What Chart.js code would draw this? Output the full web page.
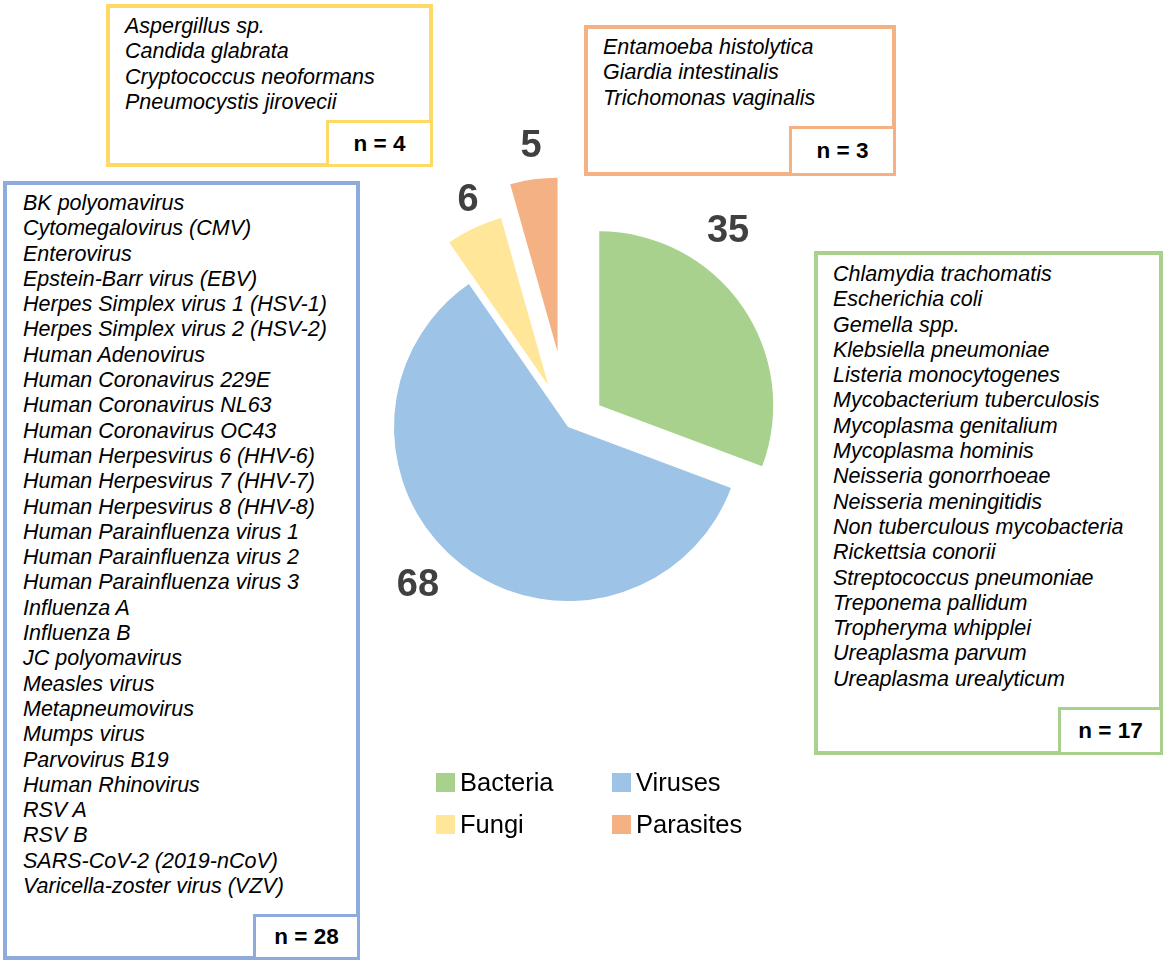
<!DOCTYPE html>
<html>
<head>
<meta charset="utf-8">
<script src="https://cdn.jsdelivr.net/npm/chart.js@4.4.0/dist/chart.umd.min.js"></script>
<style>
  body { margin: 0; background: #fff; font-family: "Liberation Sans", Arial, sans-serif; }
  #wrap { position: relative; width: 1169px; height: 965px; overflow: hidden; }
  #chartBox { position: absolute; left: 0; top: 0; width: 1169px; height: 965px; }
  .box { position: absolute; box-sizing: border-box; border: 4px solid; background: #fff; }
  .box ul { position: absolute; list-style: none; margin: 0; padding: 0; font-style: italic;
            font-size: 21.5px; line-height: 25.3px; white-space: nowrap; color: #000; }
  .nbox { position: absolute; right: -4px; bottom: -4px; box-sizing: border-box; border: 3.5px solid;
          background: #fff; display: flex; align-items: center; justify-content: center;
          font-weight: bold; font-size: 22.5px; color: #000; }
  #legend { position: absolute; left: 436px; top: 761px; display: grid;
            grid-template-columns: 176px auto; grid-auto-rows: 42px; }
  #legend div { display: flex; align-items: center; font-size: 25.5px; color: #000; }
  #legend span { display: inline-block; width: 19px; height: 19px; margin-right: 5px; }
</style>
</head>
<body>
<div id="wrap">
  <div id="chartBox"><canvas id="pieChart"></canvas></div>
  <div id="boxes"></div>
  <div id="legend"></div>
</div>
<script>
// group totals
const groups = ['Bacteria', 'Viruses', 'Fungi', 'Parasites'];
const counts = [35, 68, 6, 5];
const sliceColors = ['#A9D18E', '#9DC3E6', '#FFE699', '#F4B183'];
const boxColors = ['#A9D18E', '#8FAADC', '#FFD966', '#F4B183'];

// pathogens per group
const bacteriaList = ['Chlamydia trachomatis', 'Escherichia coli', 'Gemella spp.', 'Klebsiella pneumoniae',
  'Listeria monocytogenes', 'Mycobacterium tuberculosis', 'Mycoplasma genitalium', 'Mycoplasma hominis',
  'Neisseria gonorrhoeae', 'Neisseria meningitidis', 'Non tuberculous mycobacteria', 'Rickettsia conorii',
  'Streptococcus pneumoniae', 'Treponema pallidum', 'Tropheryma whipplei', 'Ureaplasma parvum',
  'Ureaplasma urealyticum'];
const virusList = ['BK polyomavirus', 'Cytomegalovirus (CMV)', 'Enterovirus', 'Epstein-Barr virus (EBV)',
  'Herpes Simplex virus 1 (HSV-1)', 'Herpes Simplex virus 2 (HSV-2)', 'Human Adenovirus',
  'Human Coronavirus 229E', 'Human Coronavirus NL63', 'Human Coronavirus OC43',
  'Human Herpesvirus 6 (HHV-6)', 'Human Herpesvirus 7 (HHV-7)', 'Human Herpesvirus 8 (HHV-8)',
  'Human Parainfluenza virus 1', 'Human Parainfluenza virus 2', 'Human Parainfluenza virus 3',
  'Influenza A', 'Influenza B', 'JC polyomavirus', 'Measles virus', 'Metapneumovirus', 'Mumps virus',
  'Parvovirus B19', 'Human Rhinovirus', 'RSV A', 'RSV B', 'SARS-CoV-2 (2019-nCoV)',
  'Varicella-zoster virus (VZV)'];
const fungiList = ['Aspergillus sp.', 'Candida glabrata', 'Cryptococcus neoformans', 'Pneumocystis jirovecii'];
const parasiteList = ['Entamoeba histolytica', 'Giardia intestinalis', 'Trichomonas vaginalis'];
const lists = [bacteriaList, virusList, fungiList, parasiteList];

// layout of the boxes: [left, top, width, height, textLeft, textTop, nWidth, nHeight]
const boxLayout = [
  [814, 251, 349, 504, 15, 7, 105, 48],
  [3, 181, 357, 779, 16, 6, 107, 46],
  [106, 4, 327, 163, 15, 6, 107, 47],
  [584, 25, 312, 151, 15, 6, 107, 50]
];
// how far each slice is pulled out, and label placement (angle shift in deg, gap past the rim)
const sliceExplode = [38, 0, 46, 76];
const labelShift = [-16, 5.6, 1.5, 0.4];
const labelGap = [41, 44, 28, 33];

// boxes
const boxesEl = document.getElementById('boxes');
lists.forEach(function (list, i) {
  const b = boxLayout[i];
  const box = document.createElement('div');
  box.className = 'box';
  box.style.cssText = 'left:' + b[0] + 'px;top:' + b[1] + 'px;width:' + b[2] + 'px;height:' + b[3] +
    'px;border-color:' + boxColors[i];
  const ul = document.createElement('ul');
  ul.style.left = b[4] + 'px';
  ul.style.top = b[5] + 'px';
  list.forEach(function (name) {
    const li = document.createElement('li');
    li.textContent = name;
    ul.appendChild(li);
  });
  box.appendChild(ul);
  const n = document.createElement('div');
  n.className = 'nbox';
  n.style.cssText = 'width:' + b[6] + 'px;height:' + b[7] + 'px;border-color:' + boxColors[i];
  n.textContent = 'n = ' + list.length;
  box.appendChild(n);
  boxesEl.appendChild(box);
});

// legend
const legendEl = document.getElementById('legend');
groups.forEach(function (g, i) {
  const d = document.createElement('div');
  const s = document.createElement('span');
  s.style.background = sliceColors[i];
  d.appendChild(s);
  d.appendChild(document.createTextNode(g));
  legendEl.appendChild(d);
});

const explodePlugin = {
  id: 'explode',
  afterDatasetsUpdate(chart) {
    const a = chart.chartArea;
    const cx = (a.left + a.right) / 2, cy = (a.top + a.bottom) / 2;
    chart.getDatasetMeta(0).data.forEach(function (arc, i) {
      const mid = (arc.startAngle + arc.endAngle) / 2;
      arc.x = cx + Math.cos(mid) * sliceExplode[i];
      arc.y = cy + Math.sin(mid) * sliceExplode[i];
    });
  },
  afterDatasetsDraw(chart) {
    const a = chart.chartArea;
    const cx = (a.left + a.right) / 2, cy = (a.top + a.bottom) / 2;
    const ctx = chart.ctx;
    ctx.save();
    ctx.font = 'bold 38px "Liberation Sans", Arial, sans-serif';
    ctx.fillStyle = '#404040';
    ctx.textAlign = 'center';
    ctx.textBaseline = 'middle';
    chart.getDatasetMeta(0).data.forEach(function (arc, i) {
      const ang = (arc.startAngle + arc.endAngle) / 2 + labelShift[i] * Math.PI / 180;
      const dist = arc.outerRadius + sliceExplode[i] + labelGap[i];
      ctx.fillText(String(counts[i]), cx + Math.cos(ang) * dist, cy + Math.sin(ang) * dist);
    });
    ctx.restore();
  }
};

new Chart(document.getElementById('pieChart'), {
  type: 'pie',
  data: {
    labels: groups,
    datasets: [{
      data: counts,
      backgroundColor: sliceColors,
      borderWidth: 0
    }]
  },
  options: {
    responsive: true,
    maintainAspectRatio: false,
    animation: false,
    events: [],
    layout: { padding: { left: 394, right: 427, top: 253, bottom: 364 } },
    plugins: {
      legend: { display: false },
      tooltip: { enabled: false }
    }
  },
  plugins: [explodePlugin]
});
</script>
</body>
</html>
